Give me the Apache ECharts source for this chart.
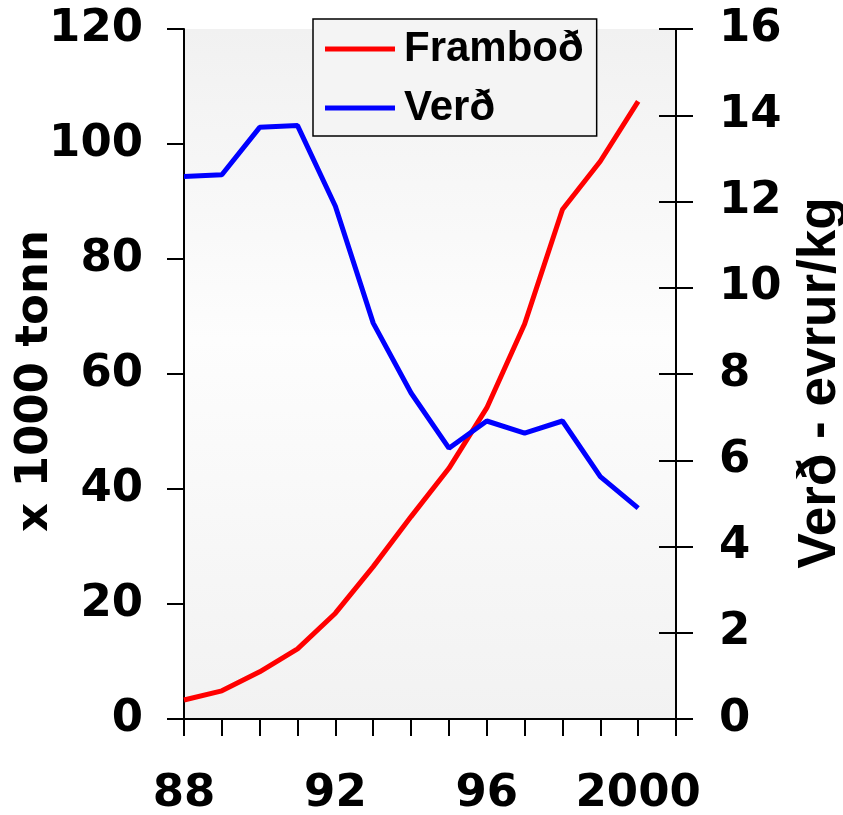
<!DOCTYPE html>
<html>
<head>
<meta charset="utf-8">
<script src="https://cdn.jsdelivr.net/npm/echarts@6/dist/echarts.min.js"></script>
<style>
  html, body { margin: 0; padding: 0; background: #ffffff; }
  #chart { width: 843px; height: 815px; }
</style>
</head>
<body>
<div id="chart"></div>
<script>
// Years (two-digit, 88 = 1988 ... 100 = 2000)
const years = [88, 89, 90, 91, 92, 93, 94, 95, 96, 97, 98, 99, 100];
// Supply, thousand tonnes
const supply = [3.3, 4.9, 8.2, 12.2, 18.4, 26.5, 35.2, 43.6, 54.1, 68.7, 88.6, 97.0, 107.4];
// Price, euro per kg
const price = [12.58, 12.62, 13.72, 13.76, 11.89, 9.18, 7.56, 6.28, 6.91, 6.63, 6.91, 5.62, 4.89];
// Year labels shown under the axis
const yearLabels = { 88: '88', 92: '92', 96: '96', 100: '2000' };

const seriesNames = ['Framboð', 'Verð'];
const leftTitle = 'x 1000 tonn';
const rightTitle = 'Verð - evrur/kg';

const tickFont = 'DejaVu Sans';
const textFont = 'Liberation Sans';

const chart = echarts.init(document.getElementById('chart'), null, { renderer: 'canvas' });

const axisLineStyle = { color: '#000', width: 2 };

chart.setOption({
  animation: false,
  backgroundColor: '#ffffff',
  grid: {
    left: 184, right: 167, top: 29, bottom: 96,
    outerBoundsMode: 'none',
    containLabel: false,
    show: true,
    borderWidth: 0,
    backgroundColor: new echarts.graphic.LinearGradient(0, 0, 0, 1, [
      { offset: 0, color: '#f1f1f1' },
      { offset: 0.45, color: '#fdfdfd' },
      { offset: 1, color: '#f2f2f2' }
    ])
  },
  legend: {
    orient: 'vertical',
    left: 313, top: 19,
    data: seriesNames,
    icon: 'rect',
    itemWidth: 70, itemHeight: 5,
    itemGap: 13,
    padding: [7, 13, 5, 12],
    backgroundColor: '#f4f4f4',
    borderColor: '#000', borderWidth: 1.5,
    textStyle: {
      fontFamily: textFont, fontWeight: 'bold', fontSize: 42, color: '#000',
      lineHeight: 46, padding: [0, 0, 0, 4]
    }
  },
  xAxis: {
    type: 'value',
    min: 88, max: 101, interval: 1,
    splitLine: { show: false },
    axisLine: { lineStyle: axisLineStyle },
    axisTick: { length: 17, lineStyle: { color: '#000', width: 2 } },
    axisLabel: {
      margin: 53,
      fontFamily: tickFont, fontWeight: 'bold', fontSize: 45, color: '#000',
      formatter: v => yearLabels[v] || ''
    }
  },
  yAxis: [
    {
      type: 'value', position: 'left',
      min: 0, max: 120, interval: 20,
      splitLine: { show: false },
      axisLine: { show: true, lineStyle: axisLineStyle },
      axisTick: { show: true, length: 17, lineStyle: { color: '#000', width: 2 } },
      axisLabel: { margin: 41, fontFamily: tickFont, fontWeight: 'bold', fontSize: 45, color: '#000' },
      name: leftTitle, nameLocation: 'middle', nameRotate: 90, nameGap: 126,
      nameMoveOverlap: false,
      nameTextStyle: {
        fontFamily: tickFont, fontWeight: 'bold', fontSize: 45, color: '#000',
        padding: [0, 14, 0, 0]
      }
    },
    {
      type: 'value', position: 'right',
      min: 0, max: 16, interval: 2,
      splitLine: { show: false },
      axisLine: { show: true, lineStyle: axisLineStyle },
      axisTick: { show: true, length: 17, lineStyle: { color: '#000', width: 2 } },
      axisLabel: { margin: 43, fontFamily: tickFont, fontWeight: 'bold', fontSize: 45, color: '#000' },
      name: rightTitle, nameLocation: 'middle', nameRotate: 90, nameGap: 118,
      nameMoveOverlap: false,
      nameTextStyle: {
        fontFamily: textFont, fontWeight: 'bold', fontSize: 53, color: '#000',
        padding: [0, 18, 0, 0]
      }
    },
    {
      // inner half of the right-hand cross ticks
      type: 'value', position: 'right',
      min: 0, max: 16, interval: 2,
      splitLine: { show: false },
      axisLine: { show: false },
      axisTick: { show: true, inside: true, length: 17, lineStyle: { color: '#000', width: 2 } },
      axisLabel: { show: false }
    }
  ],
  series: [
    {
      name: seriesNames[0], type: 'line', yAxisIndex: 0,
      data: years.map((y, i) => [y, supply[i]]),
      symbol: 'none',
      lineStyle: { color: '#ff0000', width: 5 },
      itemStyle: { color: '#ff0000' }
    },
    {
      name: seriesNames[1], type: 'line', yAxisIndex: 1,
      data: years.map((y, i) => [y, price[i]]),
      symbol: 'none',
      lineStyle: { color: '#0000ff', width: 5 },
      itemStyle: { color: '#0000ff' }
    }
  ]
});
</script>
</body>
</html>
